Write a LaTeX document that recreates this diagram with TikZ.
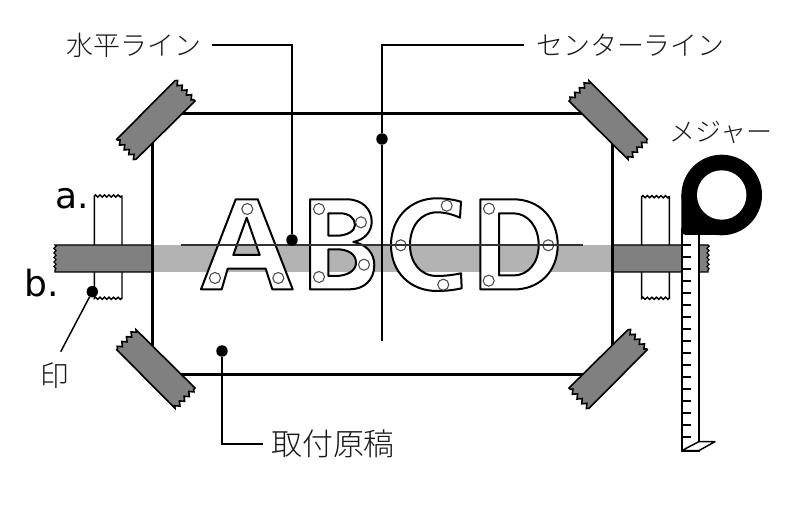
\documentclass[tikz,border=0pt]{standalone}
\usepackage{fontspec}
\newfontfamily\jp[UprightFont=* Light]{Noto Sans CJK JP}
\newfontfamily\latinlab{DejaVu Sans}
\usetikzlibrary{decorations.pathmorphing}
\definecolor{tapegrey}{HTML}{808080}
\definecolor{bandgrey}{HTML}{B3B3B3}
\tikzset{
  jag/.style={decoration={zigzag,segment length=5pt,amplitude=1.5pt}},
  finejag/.style={decoration={zigzag,segment length=3.4pt,amplitude=.8pt}},
  tapestrip/.style={draw=black,line width=1.2pt,fill=tapegrey,line join=miter},
  paperstrip/.style={draw=black,line width=1.1pt,fill=white},
  letter/.style={draw=black,line width=1.5pt,fill=white,even odd rule,line join=round},
  hole/.style={draw=black!70,line width=.8pt,fill=white},
  leader/.style={draw=black,line width=1.1pt},
  dotmark/.style={circle,fill=black,inner sep=0pt,minimum size=8.6pt},
  jplabel/.style={font=\jp\fontsize{20.2}{24}\selectfont,text=black!90,inner sep=0pt},
  ablabel/.style={font=\latinlab\fontsize{27}{32}\selectfont,text=black,inner sep=0pt}
}
\begin{document}
\begin{tikzpicture}[x=0.75pt,y=-0.75pt]
\useasboundingbox (0,0) rectangle (800,505);
% light band seen through the sheet
\fill[bandgrey] (152,245) rectangle (612,272);
% paper strips under the horizontal tape
\path[paperstrip] (94.3,245) -- (94.3,196) decorate[finejag] {-- (122,196)} -- (122,245);
\path[paperstrip] (94.3,272) -- (94.3,298.3) decorate[finejag] {-- (122,298.3)} -- (122,272);
\path[paperstrip] (641.7,245) -- (641.7,196.7) decorate[finejag] {-- (669.3,196.7)} -- (669.3,245);
\path[paperstrip] (641.7,272) -- (641.7,298.3) decorate[finejag] {-- (669.3,298.3)} -- (669.3,272);
% horizontal tape
\path[tapestrip,line width=.9pt] (152,245) -- (55,245) decorate[finejag] {-- (55,272)} -- (152,272) -- cycle;
\path[tapestrip,line width=.9pt] (612,245) -- (708,245) decorate[finejag] {-- (708,272)} -- (612,272) -- cycle;
% frame
\draw[line width=2.25pt,line join=miter] (152,114) rectangle (612,375);
% corner tapes
\path[tapestrip] (175,80.7) decorate[jag] {-- (195,101)} -- (136,159.3) decorate[jag] {-- (116.7,139.3)} -- cycle;
\path[tapestrip] (589,80.7) decorate[jag] {-- (569,101)} -- (628,159.3) decorate[jag] {-- (647.3,139.3)} -- cycle;
\path[tapestrip] (175,408.3) decorate[jag] {-- (195,388)} -- (136,329.7) decorate[jag] {-- (116.7,349.7)} -- cycle;
\path[tapestrip] (589,408.3) decorate[jag] {-- (569,388)} -- (628,329.7) decorate[jag] {-- (647.3,349.7)} -- cycle;
% letter A
\path[letter] (235.7,199.3) -- (257.7,199.3) -- (292.7,289.3) -- (272.3,289.3) -- (265.7,268.7) -- (227.7,268.7) -- (221.7,289.3) -- (201,289.3) -- cycle
  (246.7,217.7) -- (259.7,255) -- (233.3,255) -- cycle;
% letter B
\path[letter] (310,199.3) -- (346.7,199.3) .. controls (362,199.3) and (371.7,209) .. (371.7,221.7)
  .. controls (371.7,232) and (364,240) .. (353.3,242)
  .. controls (366,244) and (374.3,253) .. (374.3,265)
  .. controls (374.3,280) and (364,289.3) .. (350,289.3) -- (310,289.3) -- cycle
  (328.3,213.3) -- (340,213.3) .. controls (349,213.3) and (355,218) .. (355,225)
  .. controls (355,231) and (347,235.7) .. (336.7,235.7) -- (328.3,235.7) -- cycle
  (328.3,249.3) -- (336.7,249.3) .. controls (348,249.3) and (356,254) .. (356,262.7)
  .. controls (356,271) and (347,276) .. (335,276) -- (328.3,276) -- cycle;
% letter C
\path[letter] (461,201.7) .. controls (453,199.5) and (445,198.3) .. (437,198.3)
  .. controls (410,198.3) and (391,218) .. (391,245)
  .. controls (391,272) and (410,291) .. (437,291)
  .. controls (446,291) and (454,290) .. (461.7,288.3) -- (461,273.3)
  .. controls (453,275) and (445,276) .. (437,276)
  .. controls (420,276) and (410,262) .. (410,245)
  .. controls (410,226) and (421,212.3) .. (437,212.3)
  .. controls (445,212.3) and (453,214.5) .. (460,217.7) -- cycle;
% letter D
\path[letter] (480.3,199.3) -- (513.3,199.3) .. controls (540,199.3) and (557.7,219) .. (557.7,245)
  .. controls (557.7,271) and (540,289.5) .. (513.3,289.5) -- (480.3,289.5) -- cycle
  (499,213.3) -- (513.3,213.3) .. controls (528,213.3) and (538.7,227) .. (538.7,245)
  .. controls (538.7,263) and (528,275.5) .. (513.3,275.5) -- (499,275.5) -- cycle;
% fixing holes
\foreach \p in {(247.3,209),(215,278),(278.3,278),(319,209),(361,222.3),(364,264.7),(319,277),
  (446.7,205.7),(400.7,245.3),(443.3,284.7),(489,208.7),(548.3,245.3),(488.7,280.7)}
  \path[hole] \p circle[radius=5.5];
% guide line
\coordinate (hlL) at (181,245);
\coordinate (hlR) at (583,245);
\draw[line width=.9pt,draw=black!80] (hlL) -- (hlR);
% measure
\path[draw=black,line width=1.4pt,fill=white] (681.7,228) -- (681.7,450.7) -- (698.7,450.7) -- (698.7,228);
\path[draw=black,line width=1.1pt,fill=white,line join=round] (681.7,450.7) -- (698.7,441.7) -- (715,441.7) -- (698.7,450.7) -- cycle;
\foreach \y in {245,257,...,438}
  \draw[line width=1.1pt] (681.7,\y) -- (691,\y);
\fill[black] (721.7,195) circle[radius=40.3];
\fill[black] (721.7,195) -- (681.4,195) -- (681.4,230)
  .. controls (681.4,233) and (683.5,235) .. (686.7,235) -- (721.7,235) -- cycle;
\fill[white] (721.7,195) circle[radius=24.7];
% markers, labels and connectors
\node[dotmark] (dotH) at (292,240) {};
\node[dotmark] (dotC) at (382,139) {};
\node[dotmark] (dotS) at (92.3,291.7) {};
\node[dotmark] (dotO) at (222,351) {};
\coordinate (centreEnd) at (382,341);
\coordinate (stampEnd) at (60.7,351.7);
\node[jplabel,inner xsep=7.5pt] (labH) at (134,45) {水平ライン};
\node[jplabel,inner xsep=9pt] (labC) at (630.5,45) {センターライン};
\node[jplabel,inner xsep=6pt,font=\jp\fontsize{23.2}{26}\selectfont] (labO) at (333,444) {取付原稿};
\node[jplabel,font=\jp\fontsize{19.5}{22}\selectfont] (labM) at (721,132.5) {メジャー};
\node[jplabel,font=\jp\fontsize{21.5}{24}\selectfont] (labS) at (55,376) {印};
\node[ablabel] (labA) at (72,199) {a.};
\node[ablabel] (labB) at (42,283.5) {b.};
\draw[leader] (labH.east) -| (dotH);
\draw[leader] (labC.west) -| (dotC);
\draw[leader] (dotC) -- (centreEnd);
\draw[leader] (labO.west) -| (dotO);
\draw[leader] (dotS) -- (stampEnd);
\end{tikzpicture}
\end{document}
